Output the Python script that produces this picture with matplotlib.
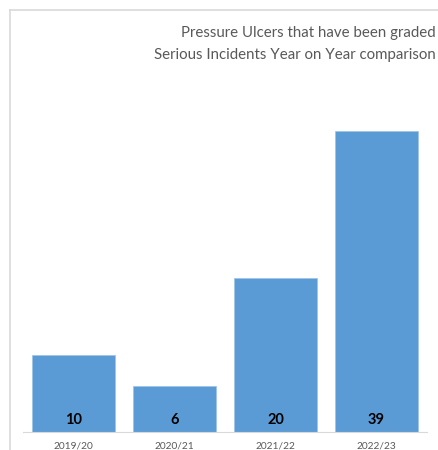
import matplotlib
matplotlib.use("Agg")
import matplotlib.pyplot as plt
from matplotlib.lines import Line2D

years = ['2019/20', '2020/21', '2021/22', '2022/23']
incidents = [10, 6, 20, 39]

plt.rcParams['font.family'] = ['Lato', 'DejaVu Sans']

fig = plt.figure(figsize=(4.38, 4.5), dpi=100)
W, H = 438, 450

# outer chart frame (right and bottom run off the picture)
fig.add_artist(Line2D([10 / W, 10 / W], [0, 1 - 10 / H], color='#d9d9d9', lw=1.2))
fig.add_artist(Line2D([10 / W, 1], [1 - 10 / H, 1 - 10 / H], color='#d9d9d9', lw=1.2))

ymax = 45
ax_h = ymax * 7.72
ax = fig.add_axes([23 / W, (H - 432) / H, 404 / W, ax_h / H])
ax.bar(range(len(years)), incidents, width=0.82, color='#5b9bd5',
       edgecolor='#9dc3e6', linewidth=0.5)
ax.set_xlim(-0.5, len(years) - 0.5)
ax.set_ylim(0, ymax)

for i, v in enumerate(incidents):
    ax.text(i, 1.6, str(v), ha='center', va='center', fontsize=10.5,
            fontweight='bold', color='black')

ax.set_xticks(range(len(years)))
ax.set_xticklabels(years, fontsize=7.3, color='#595959')
ax.tick_params(axis='x', length=0, pad=7)
ax.set_yticks([])
for s in ['top', 'right', 'left']:
    ax.spines[s].set_visible(False)
ax.spines['bottom'].set_color('#d9d9d9')

fig.text(436 / W, 1 - 33 / H, 'Pressure Ulcers that have been graded',
         ha='right', va='center', fontsize=10.8, color='#595959')
fig.text(436 / W, 1 - 55 / H, 'Serious Incidents Year on Year comparison',
         ha='right', va='center', fontsize=10.8, color='#595959')

fig.savefig('out.png', dpi=100)
